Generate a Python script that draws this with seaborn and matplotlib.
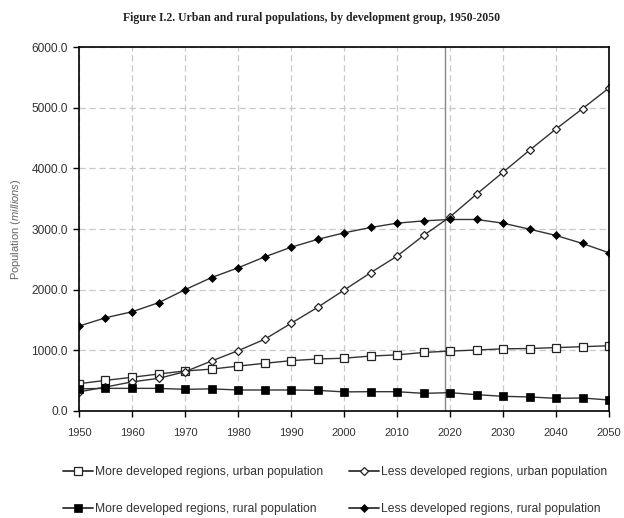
import matplotlib
matplotlib.use("Agg")
import matplotlib.pyplot as plt
import seaborn as sns
import pandas as pd
from matplotlib.lines import Line2D

years = [1950, 1955, 1960, 1965, 1970, 1975, 1980, 1985, 1990, 1995, 2000,
         2005, 2010, 2015, 2020, 2025, 2030, 2035, 2040, 2045, 2050]
mdr_urban = [450, 505, 555, 610, 660, 690, 740, 786, 830, 857, 870,
             906, 925, 965, 988, 1005, 1025, 1030, 1045, 1060, 1076]
ldr_urban = [315, 395, 480, 538, 648, 824, 994, 1181, 1445, 1708, 1993,
             2279, 2553, 2894, 3201, 3575, 3937, 4300, 4651, 4986, 5327]
mdr_rural = [365, 373, 373, 373, 357, 365, 346, 346, 346, 340, 315,
             318, 318, 291, 302, 269, 242, 231, 209, 214, 181]
ldr_rural = [1400, 1537, 1636, 1785, 2000, 2200, 2360, 2540, 2700, 2830, 2937,
             3026, 3097, 3135, 3158, 3158, 3097, 2998, 2894, 2762, 2608]
labels = ["More developed regions, urban population",
          "Less developed regions, urban population",
          "More developed regions, rural population",
          "Less developed regions, rural population"]
title = "Figure I.2. Urban and rural populations, by development group, 1950-2050"
crossover_year = 2019

sns.set_style("white")
plt.rcParams['font.family'] = ['Liberation Sans', 'DejaVu Sans']
plt.rcParams['mathtext.fontset'] = 'custom'
plt.rcParams['mathtext.it'] = 'Liberation Sans:italic'
plt.rcParams['mathtext.rm'] = 'Liberation Sans'

fig = plt.figure(figsize=(6.24, 5.18), dpi=100)
ax = fig.add_axes([0.1266, 0.2066, 0.8494, 0.7024])

series = [mdr_urban, ldr_urban, mdr_rural, ldr_rural]
styles = [
    dict(marker="s", markersize=5.5, markerfacecolor="white", markeredgecolor="#222222", markeredgewidth=0.9),
    dict(marker="D", markersize=4.2, markerfacecolor="white", markeredgecolor="#222222", markeredgewidth=0.9),
    dict(marker="s", markersize=5.8, markerfacecolor="black", markeredgecolor="black", markeredgewidth=0.5),
    dict(marker="D", markersize=4.2, markerfacecolor="black", markeredgecolor="black", markeredgewidth=0.5),
]
handles = []
for vals, lab, st in zip(series, labels, styles):
    df = pd.DataFrame({"year": years, "pop": vals})
    sns.lineplot(data=df, x="year", y="pop", ax=ax, color="#333333", linewidth=1.0, **st)
    handles.append(Line2D([], [], color="#333333", linewidth=1.3, **st))

ax.axvline(crossover_year, color="#888888", linewidth=1.0, zorder=1)

ax.set_xlim(1950, 2050)
ax.set_ylim(0, 6000)
ax.set_xticks(range(1950, 2051, 10))
ax.set_yticks(range(0, 6001, 1000))
ax.set_yticklabels([f"{v:.1f}" for v in range(0, 6001, 1000)])
ax.grid(True, color="#c8c8c8", linestyle=(0, (5, 3)), linewidth=0.9)
ax.set_axisbelow(True)
for s in ax.spines.values():
    s.set_color("black")
    s.set_linewidth(1.2)
ax.tick_params(axis="both", which="major", length=4, width=1, color="black",
               labelcolor="#333333", direction="out", bottom=True, left=True)
ax.tick_params(axis="x", pad=8, labelsize=8)
ax.tick_params(axis="y", pad=4, labelsize=8.6)
ax.set_xlabel("")
ax.set_ylabel("Population ($\\mathit{millions}$)", fontsize=8, color="#666666", labelpad=6)

fig.text(0.5, 0.965, title, ha="center", va="center", fontsize=8.5, fontweight="bold",
         family=["Liberation Serif", "DejaVu Serif"], color="#222222")

order = [handles[0], handles[2], handles[1], handles[3]]
order_labels = [labels[0], labels[2], labels[1], labels[3]]
fig.legend(order, order_labels, loc="center", bbox_to_anchor=(0.537, 0.053),
           ncol=2, frameon=False, fontsize=8.75, handlelength=2.5,
           handletextpad=0.15, columnspacing=2.1, labelspacing=2.05,
           labelcolor="#333333")

fig.savefig("out.png", dpi=100)
